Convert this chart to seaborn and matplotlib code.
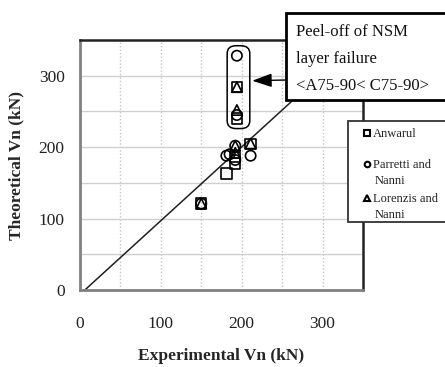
import matplotlib
matplotlib.use("Agg")
import matplotlib.pyplot as plt
import seaborn as sns
import numpy as np
import pandas as pd
from matplotlib.patches import Rectangle, FancyBboxPatch
from matplotlib.lines import Line2D

# ---- data ----
anw_x = [150, 181, 192, 192, 211, 194, 194]
anw_y = [121, 163, 177, 186, 204, 284, 240]
par_x = [150, 181, 185, 192, 192, 211, 194, 194]
par_y = [121, 188, 190, 202, 182, 188, 328, 245]
lor_x = [150, 192, 211, 192, 194, 194]
lor_y = [121, 202, 205, 192, 284, 252]
series_names = ["Anwarul", "Parretti and\nNanni", "Lorenzis and\nNanni"]
fit_x = [6, 345]
fit_y = [0, 350]
x_ticks = [0, 100, 200, 300]
y_ticks = [0, 100, 200, 300]
x_label = "Experimental Vn (kN)"
y_label = "Theoretical Vn (kN)"
note_lines = ["Peel-off of NSM", "layer failure", "<A75-90< C75-90>"]

sns.set_theme(style="white")
plt.rcParams['font.family'] = ['Liberation Serif', 'DejaVu Serif']

W, H = 445, 367
fig = plt.figure(figsize=(W / 100, H / 100), dpi=100)
ax = fig.add_axes([80 / W, 1 - 290 / H, 283 / W, 250 / H])

ax.set_xlim(0, 350)
ax.set_ylim(0, 350)
ax.set_xticks(x_ticks)
ax.set_yticks(y_ticks)
ax.grid(False)
for v in np.arange(50, 350, 50):
    ax.axhline(v, color="#d0d0d0", lw=1.0, zorder=0)
    ax.axvline(v, color="#c4c4c4", lw=1.0, ls=(0, (1, 1.5)), zorder=0)

sns.lineplot(x=fit_x, y=fit_y, ax=ax, color="#202020", lw=1.1, zorder=2)

mk = dict(s=55, facecolor="none", edgecolor="black", linewidth=1.2, zorder=3)
sns.scatterplot(x=anw_x, y=anw_y, marker="s", ax=ax, **mk)
sns.scatterplot(x=par_x, y=par_y, marker="o", ax=ax, **mk)
sns.scatterplot(x=lor_x, y=lor_y, marker="^", ax=ax, **mk)

# rounded outline around the peel-off group
ax.add_patch(FancyBboxPatch((186, 230), 20, 108,
                            boxstyle="round,pad=4,rounding_size=11",
                            fc="none", ec="black", lw=1.1, zorder=4))

for s in ["left", "bottom"]:
    ax.spines[s].set_color("#808080")
    ax.spines[s].set_linewidth(2.0)
for s in ["top", "right"]:
    ax.spines[s].set_color("#222222")
    ax.spines[s].set_linewidth(1.8)

ax.tick_params(axis="both", which="major", direction="out", length=5,
               width=1.2, color="#808080", labelsize=12.5, labelcolor="#222222")
ax.tick_params(axis="x", pad=14)
ax.tick_params(axis="y", pad=6)

ax.set_xlabel(x_label, fontsize=12.5, fontweight="bold", labelpad=11)
ax.set_ylabel(y_label, fontsize=12.5, fontweight="bold", labelpad=10)

# annotation box (extends beyond the figure edge)
def fx(px):
    return px / W

def fy(py):
    return 1 - py / H

fig.add_artist(Rectangle((fx(286), fy(100)), fx(200), 87 / H, transform=fig.transFigure,
                         fc="white", ec="black", lw=2.0, zorder=10, clip_on=False))
for txt, py in zip(note_lines, [32, 59, 86]):
    fig.text(fx(296), fy(py), txt, fontsize=12, va="center", ha="left", zorder=11,
             color="#111111")

# arrow from box to the group
ax.annotate("", xy=(213, 293), xycoords="data",
            xytext=(fx(286), fy(80)), textcoords="figure fraction",
            arrowprops=dict(arrowstyle="-|>,head_length=1.0,head_width=0.35",
                            color="black", lw=1.0, shrinkA=0, shrinkB=0), zorder=9)

# legend box
fig.add_artist(Rectangle((fx(348), fy(222)), fx(200), 101 / H, transform=fig.transFigure,
                         fc="white", ec="#333333", lw=1.3, zorder=10, clip_on=False))
leg_markers = ["s", "o", "^"]
marker_y = [133, 164, 198]
for m, name, py in zip(leg_markers, series_names, marker_y):
    fig.add_artist(Line2D([fx(367)], [fy(py)], transform=fig.transFigure, marker=m,
                          markersize=4, mfc="none", mec="black", mew=1.5, ls="none",
                          zorder=11))
    lines = name.split("\n")
    fig.text(fx(373), fy(py + 1), lines[0], fontsize=9, va="center", ha="left",
             zorder=11, color="#222222")
    if len(lines) > 1:
        fig.text(fx(375), fy(py + 17), lines[1], fontsize=9, va="center",
                 ha="left", zorder=11, color="#222222")

fig.savefig("out.png", dpi=100)
